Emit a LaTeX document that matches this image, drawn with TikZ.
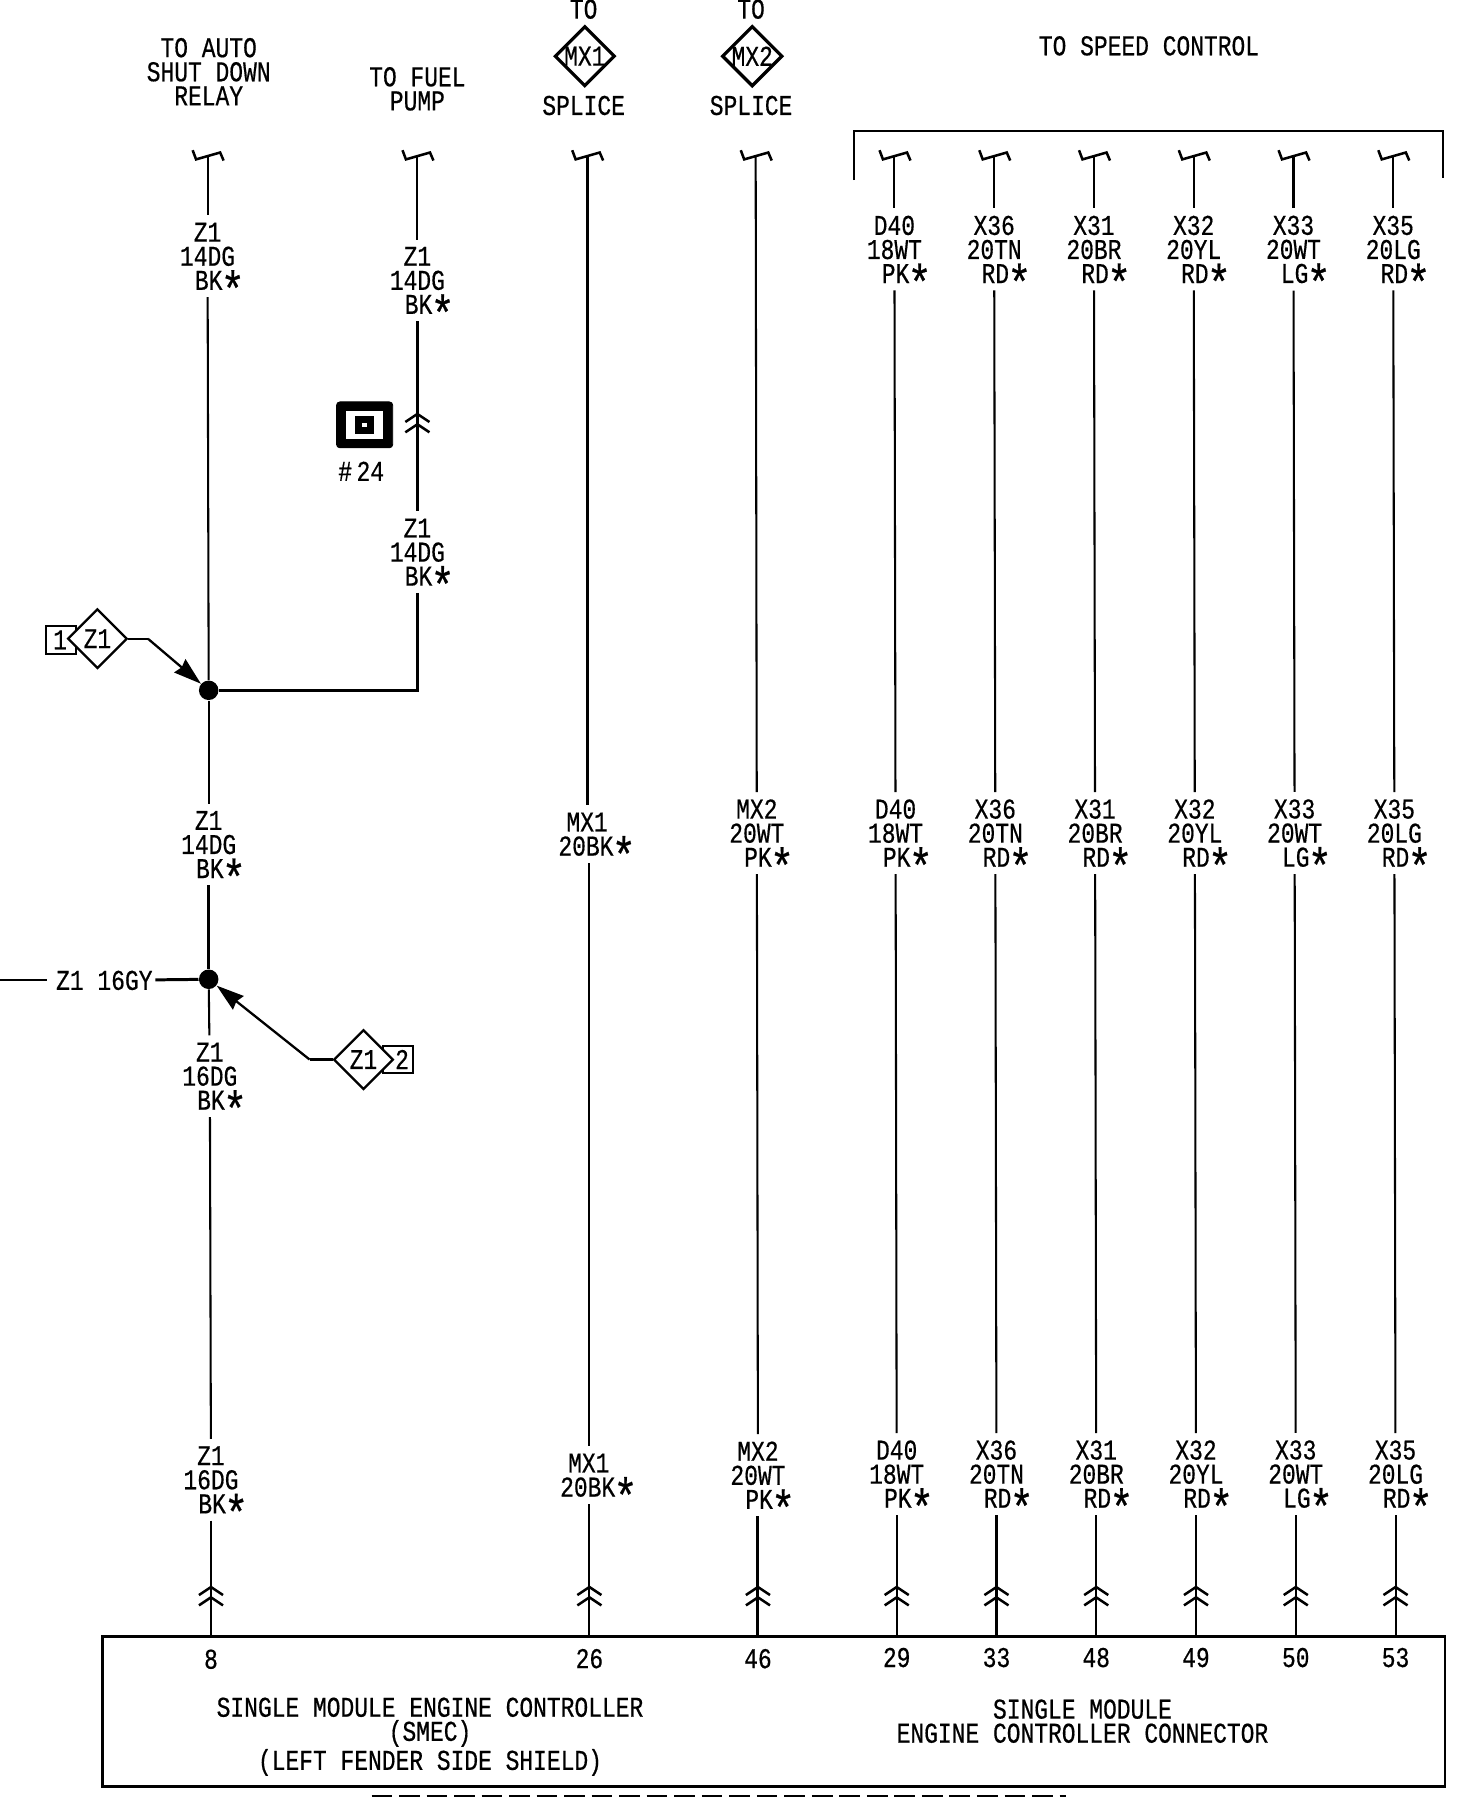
\documentclass[tikz,border=0pt]{standalone}
\usepackage{fontspec}
\setmainfont[FakeStretch=0.8,FakeBold=0.5]{Liberation Mono}
\usetikzlibrary{calc}
\usetikzlibrary{arrows.meta,arrows}
\usetikzlibrary{shapes.geometric}

\newcommand{\lblfont}{\fontsize{12.5}{10.5}\selectfont}
\newcommand{\wstar}{\hspace{0.5pt}\makebox[8pt]{\smash{\raisebox{-7.4pt}{\fontsize{22}{22}\selectfont *}}}}
\newcommand{\wlbl}[3]{#1\\#2\\\hspace*{9.5pt}#3\wstar}

\tikzset{
    wire/.style = {line width = 0.9pt},
    heavywire/.style = {line width = 1.3pt},
    wirelbl/.style = {align = center, font = \lblfont, inner xsep = 1pt, inner ysep = 3pt},
    plain/.style = {align = center, font = \lblfont, inner sep = 0pt},
    pointer/.style = {line width = 1pt, -{Stealth[length = 12pt, width = 7.5pt, inset = 1pt]}},
    tagdiamond/.style = {diamond, draw, line width = 1pt, fill = white, inner sep = 0pt, minimum width = 26pt, minimum height = 26pt, font = \lblfont},
    tagbox/.style = {rectangle, draw, line width = 0.9pt, inner sep = 0pt, minimum width = 13pt, minimum height = 12pt, font = \lblfont},
    junction/.style = {circle, fill = black, inner sep = 0pt, minimum size = 8.5pt},
    wirebreak/.pic = {
        \draw[line width = 1.1pt] (-13,-5) -- (-10,3) -- (11,-3) -- (14,4);
    },
    matecon/.pic = {
        \draw[line width = 1.1pt] (-10.5,7) -- (0,0) -- (10.5,7);
        \draw[line width = 1.1pt] (-10.5,16) -- (0,9) -- (10.5,16);
    }
}

\begin{document}
\begin{tikzpicture}[x = 0.5pt, y = -0.5pt]
    \useasboundingbox (0,0) rectangle (1270,1568);

    % headers
    \node[plain] (hdrauto) at (182,62.5) {TO AUTO\\SHUT DOWN\\RELAY};
    \node[plain] (hdrfuel) at (364,77.5) {TO FUEL\\PUMP};
    \node[plain] (hdrspeed) at (1002,40) {TO SPEED CONTROL};
    \foreach \t/\x [count=\k] in {MX1/510, MX2/656}
    {
        \node[plain] (hdrto\k) at ($(\x,8) + (-1,0)$) {TO};
        \node[tagdiamond, line width = 1.4pt] (hdrsplice\k) at (\x,49) {\t};
        \node[plain] (hdrtxt\k) at ($(\x,92) + (-1,0)$) {SPLICE};
    }

    % bracket over the speed control wires
    \coordinate (brkl) at (745,157);
    \coordinate (brkr) at (1258,155);
    \coordinate (brktop) at (1000,114);
    \draw[wire] (brkl) -- (brkl |- brktop) -- (brkr |- brktop) -- (brkr);

    % controller box
    \node[draw, line width = 1.2pt, anchor = north west, minimum width = 585.5pt, minimum height = 65.5pt, inner sep = 0pt] (smecbox) at (88,1426) {};
    \node[plain] (smectxt) at (375,1514.5) {SINGLE MODULE ENGINE CONTROLLER\\(SMEC)\\(LEFT FENDER SIDE SHIELD)};
    \node[plain] (conntxt) at (944,1501) {SINGLE MODULE\\ENGINE CONTROLLER CONNECTOR};

    % first wire, with both splices
    \coordinate (za) at (181,136);
    \pic at (za) {wirebreak};
    \node[wirelbl] (zb) at (181,223.5) {\wlbl{Z1}{14DG}{BK}};
    \node[junction] (ja) at (182,602) {};
    \node[wirelbl] (zc) at (182,736.5) {\wlbl{Z1}{14DG}{BK}};
    \node[junction] (jb) at (182,854) {};
    \node[wirelbl] (zd) at (183,938.5) {\wlbl{Z1}{16DG}{BK}};
    \node[wirelbl] (ze) at (184,1290.5) {\wlbl{Z1}{16DG}{BK}};
    \coordinate (zf) at (184,1384);
    \pic at (zf) {matecon};
    \node[plain] (pinz) at (184,1447) {8};
    \draw[wire] (za) -- (zb);
    \draw[wire] (zb) -- (ja);
    \draw[wire] (ja) -- (zc);
    \draw[heavywire] (zc) -- (jb);
    \draw[wire] (jb) -- (zd);
    \draw[wire] (zd) -- (ze);
    \draw[wire] (ze) -- (ze |- smecbox.north);

    % fuel pump branch
    \coordinate (fa) at (364,136);
    \pic at (fa) {wirebreak};
    \node[wirelbl] (fb) at (364,244.5) {\wlbl{Z1}{14DG}{BK}};
    \coordinate (fc) at (364,361);
    \pic at (fc) {matecon};
    \node[wirelbl] (fd) at (364,481.5) {\wlbl{Z1}{14DG}{BK}};
    \coordinate (fe) at (364,602);
    \draw[wire] (fa) -- (fb);
    \draw[heavywire] (fb) -- (fd);
    \draw[heavywire] (fd) -- (fe) -- (ja);

    % splice symbol
    \node[draw, fill = black, rounded corners = 1.5pt, minimum width = 24.5pt, minimum height = 20pt, inner sep = 0pt] (splicebox) at (318,370.5) {};
    \node[fill = white, minimum width = 16pt, minimum height = 12pt, inner sep = 0pt] (splicewin) at (318,370.5) {};
    \node[fill = black, minimum width = 8pt, minimum height = 8pt, inner sep = 0pt] (spliceblk) at (318,370.5) {};
    \node[fill = white, minimum width = 2pt, minimum height = 2pt, inner sep = 0pt] (splicedot) at (318,370.5) {};
    \node[plain] (splicenum) at (315,411) {\#\hspace{2pt}24};

    % tagged pointers at the two junctions
    \node[tagbox] (boxa) at (53,558) {};
    \node[anchor = west, inner sep = 0pt, font = \lblfont] (boxatxt) at (46,558) {1};
    \node[tagdiamond] (dia) at (85,557) {Z1};
    \coordinate (bena) at (129,557);
    \draw[wire, line width = 1pt] (dia) -- (bena);
    \draw[pointer] (bena) -- (ja);

    \node[tagbox] (boxb) at (347,924) {};
    \node[anchor = east, inner sep = 0pt, font = \lblfont] (boxbtxt) at (357,924) {2};
    \node[tagdiamond] (dib) at (317,924) {Z1};
    \coordinate (benb) at (270,924);
    \draw[wire, line width = 1pt] (dib) -- (benb);
    \draw[pointer] (benb) -- (jb);

    % ground feed from the left
    \coordinate (gnd) at (0,855);
    \node[plain, inner xsep = 1pt] (gndtxt) at (91,855) {Z1 16GY};
    \draw[wire] (gnd) -- ([xshift = -3pt]gndtxt.west);
    \draw[heavywire] (gndtxt) -- (jb);

    % the two splice wires
    \foreach \xa/\xd/\p [count=\k] in {512/514/26, 659/661/46}
    {
        \coordinate (sa\k) at (\xa,136);
        \pic at (sa\k) {wirebreak};
        \coordinate (sd\k) at (\xd,1384);
        \pic at (sd\k) {matecon};
        \node[plain] (pins\k) at (\xd,1446.5) {\p};
    }
    \node[wirelbl, align = left] (sb1) at (519.5,727.5) {\hspace*{3.5pt}MX1\\20BK\wstar};
    \node[wirelbl, align = left] (sc1) at (521,1286.5) {\hspace*{3.5pt}MX1\\20BK\wstar};
    \node[wirelbl] (sb2) at (660,726.5) {\wlbl{MX2}{20WT}{PK}};
    \node[wirelbl] (sc2) at (661,1286.5) {\wlbl{MX2}{20WT}{PK}};
    \draw[heavywire] (sa1) -- (sa1 |- sb1.north);
    \draw[wire] (sd1 |- sb1.south) -- (sd1 |- sc1.north);
    \draw[wire] (sd1 |- sc1.south) -- (sd1 |- smecbox.north);
    \draw[wire] (sa2) -- (sb2);
    \draw[wire] (sb2) -- (sc2);
    \draw[heavywire] (sc2) -- (sc2 |- smecbox.north);

    % speed control wires
    \foreach \t/\a/\b/\xa/\xb/\xc/\p [count=\k] in {
        D40/18WT/PK/780/781/782/29,
        X36/20TN/RD/867/868/869/33,
        X31/20BR/RD/954/955/956/48,
        X32/20YL/RD/1041/1042/1043/49,
        X33/20WT/LG/1128/1129/1130/50,
        X35/20LG/RD/1215/1216/1217/53}
    {
        \coordinate (ca\k) at (\xa,136);
        \pic at (ca\k) {wirebreak};
        \node[wirelbl] (cb\k) at (\xa,217.5) {\wlbl{\t}{\a}{\b}};
        \node[wirelbl] (cc\k) at (\xb,726.5) {\wlbl{\t}{\a}{\b}};
        \node[wirelbl] (cd\k) at (\xc,1285.5) {\wlbl{\t}{\a}{\b}};
        \coordinate (ce\k) at (\xc,1384);
        \pic at (ce\k) {matecon};
        \node[plain] (pinc\k) at (\xc,1445.5) {\p};
        \draw[wire] (ca\k) -- (cb\k);
        \draw[wire] (cb\k) -- (cc\k);
        \draw[wire] (cc\k) -- (cd\k);
        \draw[wire] (cd\k) -- (cd\k |- smecbox.north);
    }

    % tops of the cut off line below the box
    \coordinate (cuta) at (324,1566);
    \coordinate (cutb) at (930,1566);
    \draw[line width = 1pt, dash pattern = on 9pt off 3pt] (cuta) -- (cutb);
\end{tikzpicture}
\end{document}
